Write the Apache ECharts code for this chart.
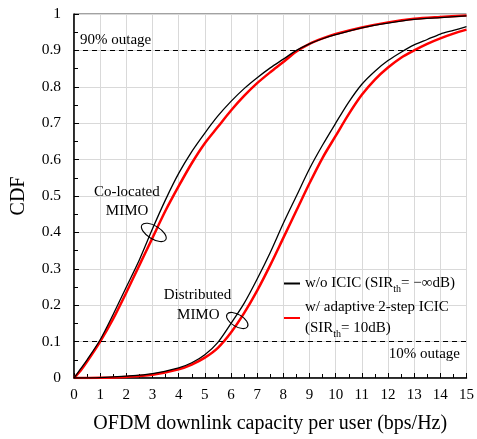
<!DOCTYPE html>
<html><head><meta charset="utf-8">
<script src="https://cdn.jsdelivr.net/npm/echarts@6/dist/echarts.min.js"></script>
<style>html,body{margin:0;padding:0;background:#fff}#c{width:477px;height:439px}</style>
</head><body><div id="c"></div>
<script>
const xTicks = [0,1,2,3,4,5,6,7,8,9,10,11,12,13,14,15];
const yTicks = ['0','0.1','0.2','0.3','0.4','0.5','0.6','0.7','0.8','0.9','1'];

const coX = [0,0.25,0.5,1,1.5,2,2.5,3,3.5,4,4.5,5,5.5,6,6.5,7,7.5,8,8.5,9,9.5,10,11,12,13,14,15];
const coBlack = [0,0.025,0.05,0.105,0.175,0.25,0.325,0.41,0.49,0.562,0.622,0.673,0.72,0.76,0.795,0.825,0.852,0.876,0.9,0.918,0.932,0.943,0.962,0.975,0.985,0.99,0.995];
const coRed   = [0,0.02,0.045,0.1,0.163,0.235,0.31,0.385,0.46,0.527,0.59,0.645,0.69,0.735,0.775,0.81,0.84,0.868,0.897,0.918,0.933,0.945,0.963,0.977,0.987,0.992,0.996];

const diX = [0,1,2,3,4,4.5,5,5.5,6,6.5,7,7.5,8,8.5,9,9.5,10,10.5,11,11.5,12,12.5,13,13.5,14,14.5,15];
const diBlack = [0,0.001,0.005,0.012,0.028,0.042,0.064,0.098,0.15,0.205,0.272,0.345,0.425,0.5,0.575,0.64,0.7,0.758,0.807,0.843,0.872,0.895,0.915,0.93,0.945,0.955,0.965];
const diRed   = [0,0.0005,0.003,0.009,0.024,0.037,0.056,0.083,0.125,0.178,0.24,0.31,0.385,0.46,0.535,0.605,0.665,0.725,0.778,0.82,0.853,0.88,0.9,0.918,0.933,0.946,0.957];

const outageLevels = [0.1, 0.9];
const nameNo = 'w/o ICIC';
const nameAd = 'w/ adaptive 2-step ICIC';

function pairs(xs, ys){ return xs.map((x,i)=>[x, ys[i]]); }

const FONT = '"Liberation Serif","DejaVu Serif",serif';
const chart = echarts.init(document.getElementById('c'));
const lineS = (name, xs, ys, color, w, extra) => Object.assign({
  name, type:'line', data: pairs(xs, ys), showSymbol:false, smooth:0.3,
  lineStyle:{color, width:w}, itemStyle:{color}, z: color==='#000'?4:3, silent:true
}, extra||{});

chart.setOption({
  animation:false,
  textStyle:{fontFamily:FONT},
  grid:{left:74,right:9,top:14,bottom:59,show:true,borderColor:'#444',borderWidth:1},
  legend:{
    orient:'vertical', left:279, top:271, itemWidth:16, itemHeight:2, icon:'rect', itemGap:6,
    selectedMode:false,
    data:[nameNo, nameAd],
    formatter: n => n===nameNo
      ? '{a|w/o ICIC (SIR}{s|th}{a|= −∞dB)}'
      : '{a|w/ adaptive 2-step ICIC}\n{a|(SIR}{s|th}{a|= 10dB)}',
    textStyle:{color:'#000',rich:{
      a:{fontFamily:FONT,fontSize:15,color:'#000',lineHeight:21},
      s:{fontFamily:FONT,fontSize:10,color:'#000',verticalAlign:'bottom',lineHeight:21,padding:[6,0,0,0]}
    }}
  },
  xAxis:{
    type:'value', min:0, max:15, interval:1,
    name:'OFDM downlink capacity per user (bps/Hz)', nameLocation:'middle', nameGap:36,
    nameTextStyle:{fontFamily:FONT,fontSize:20,color:'#000'},
    axisLine:{onZero:false,lineStyle:{color:'#000',width:1.5}},
    axisTick:{inside:true,length:5,lineStyle:{color:'#000'}},
    minorTick:{show:true,splitNumber:2,length:4,lineStyle:{color:'#000'}},
    axisLabel:{fontFamily:FONT,fontSize:15,color:'#000',margin:10,formatter:v=>String(xTicks[Math.round(v)])},
    splitLine:{show:true,lineStyle:{color:'#d9d9d9',width:1}}
  },
  yAxis:{
    type:'value', min:0, max:1, interval:0.1,
    name:'CDF', nameLocation:'middle', nameGap:45, nameRotate:90,
    nameTextStyle:{fontFamily:FONT,fontSize:20,color:'#000'},
    axisLine:{onZero:false,lineStyle:{color:'#000',width:1.5}},
    axisTick:{inside:true,length:5,lineStyle:{color:'#000'}},
    minorTick:{show:true,splitNumber:2,length:4,lineStyle:{color:'#000'}},
    axisLabel:{fontFamily:FONT,fontSize:15.5,color:'#000',margin:13,formatter:v=>yTicks[Math.round(v*10)]},
    splitLine:{show:true,lineStyle:{color:'#d9d9d9',width:1}}
  },
  series:[
    lineS(nameAd, coX, coRed, '#ff0000', 2.5, {markLine:{
      silent:true, symbol:'none', label:{show:false},
      lineStyle:{color:'#000',type:[5,4],width:1.2},
      data: outageLevels.map(v=>({yAxis:v}))
    }}),
    lineS(nameAd, diX, diRed, '#ff0000', 2.5),
    lineS(nameNo, coX, coBlack, '#000', 1.3),
    lineS(nameNo, diX, diBlack, '#000', 1.3)
  ]
});

function px(x,y){ return chart.convertToPixel({gridIndex:0},[x,y]); }
const t = (p, text, align, extra) => Object.assign({type:'text', x:p[0], y:p[1], z:10,
  style:{text, fill:'#000', font:'15px '+FONT, align, verticalAlign:'middle'}}, extra||{});
const e1 = px(3.05,0.40), e2 = px(6.24,0.158);
chart.setOption({graphic:[
  t(px(0.23,0.929),'90% outage','left'),
  t(px(14.75,0.066),'10% outage','right'),
  t(px(2.02,0.512),'Co-located','center'),
  t(px(2.03,0.458),'MIMO','center'),
  t(px(4.72,0.227),'Distributed','center'),
  t(px(4.75,0.172),'MIMO','center'),
  {type:'ellipse', x:e1[0], y:e1[1], rotation:-0.55, z:10,
   shape:{cx:0,cy:0,rx:14,ry:6.5}, style:{fill:'none',stroke:'#000',lineWidth:1.1}},
  {type:'ellipse', x:e2[0], y:e2[1], rotation:-0.55, z:10,
   shape:{cx:0,cy:0,rx:12,ry:6}, style:{fill:'none',stroke:'#000',lineWidth:1.1}}
]});
</script></body></html>
